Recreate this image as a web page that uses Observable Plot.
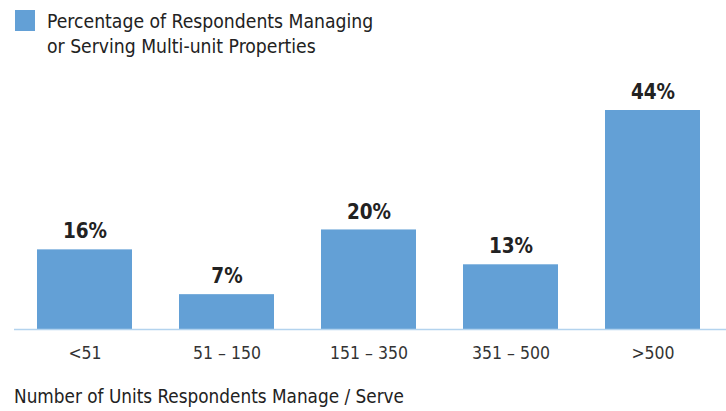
<!DOCTYPE html>
<html>
<head>
<meta charset="utf-8">
<script src="https://cdn.jsdelivr.net/npm/d3@7"></script>
<script src="https://cdn.jsdelivr.net/npm/@observablehq/plot@0.6"></script>
<style>
  html, body { margin: 0; padding: 0; background: #fff; }
  body { width: 726px; height: 411px; overflow: hidden; font-family: "DejaVu Sans Condensed", "Liberation Sans Narrow", "Roboto", sans-serif; color: #222; }
  #legend { position: relative; height: 70px; }
  #legend .sw { position: absolute; left: 15px; top: 10px; width: 20px; height: 21px; background: #63a0d6; }
  #legend .tx { position: absolute; left: 47px; top: 9px; font-size: 19.2px; line-height: 25px; color: #222; white-space: nowrap; }
  #chart svg { display: block; }
  #caption { position: relative; height: 41px; }
  #caption .tx { position: absolute; left: 14px; top: 16px; font-size: 18.8px; line-height: 22px; color: #222; white-space: nowrap; }
</style>
</head>
<body>
<div id="legend"><div class="sw"></div><div class="tx">Percentage of Respondents Managing<br>or Serving Multi-unit Properties</div></div>
<div id="chart"></div>
<div id="caption"><div class="tx">Number of Units Respondents Manage / Serve</div></div>
<script>
const categories = ["<51", "51 – 150", "151 – 350", "351 – 500", ">500"];
const values = [16, 7, 20, 13, 44];
const seriesName = "Percentage of Respondents Managing or Serving Multi-unit Properties";
const axisTitle = "Number of Units Respondents Manage / Serve";

const data = categories.map((c, i) => ({category: c, value: values[i]}));

const plot = Plot.plot({
  width: 726,
  height: 300,
  marginLeft: 14,
  marginRight: 0,
  marginTop: 0,
  marginBottom: 41,
  style: {fontFamily: '"DejaVu Sans Condensed", "Liberation Sans Narrow", sans-serif', color: "#333", background: "#fff"},
  x: {domain: categories, range: [11.5, 725.5], paddingInner: 0.33, paddingOuter: 0.165, label: null},
  y: {domain: [0, 44], range: [259, 40], axis: null},
  marks: [
    Plot.barY(data, {x: "category", y: "value", fill: "#63a0d6"}),
    Plot.ruleY([0], {stroke: "#b3d3ee", strokeWidth: 1.5}),
    Plot.axisX({tickSize: 0, tickPadding: 17, fontSize: 17.5, fill: "#333"}),
    Plot.text(data, {x: "category", y: "value", text: d => d.value + "%", dy: -18, fontSize: 20.5, fontWeight: "bold", fill: "#222"})
  ]
});
document.getElementById("chart").appendChild(plot);
</script>
</body>
</html>
